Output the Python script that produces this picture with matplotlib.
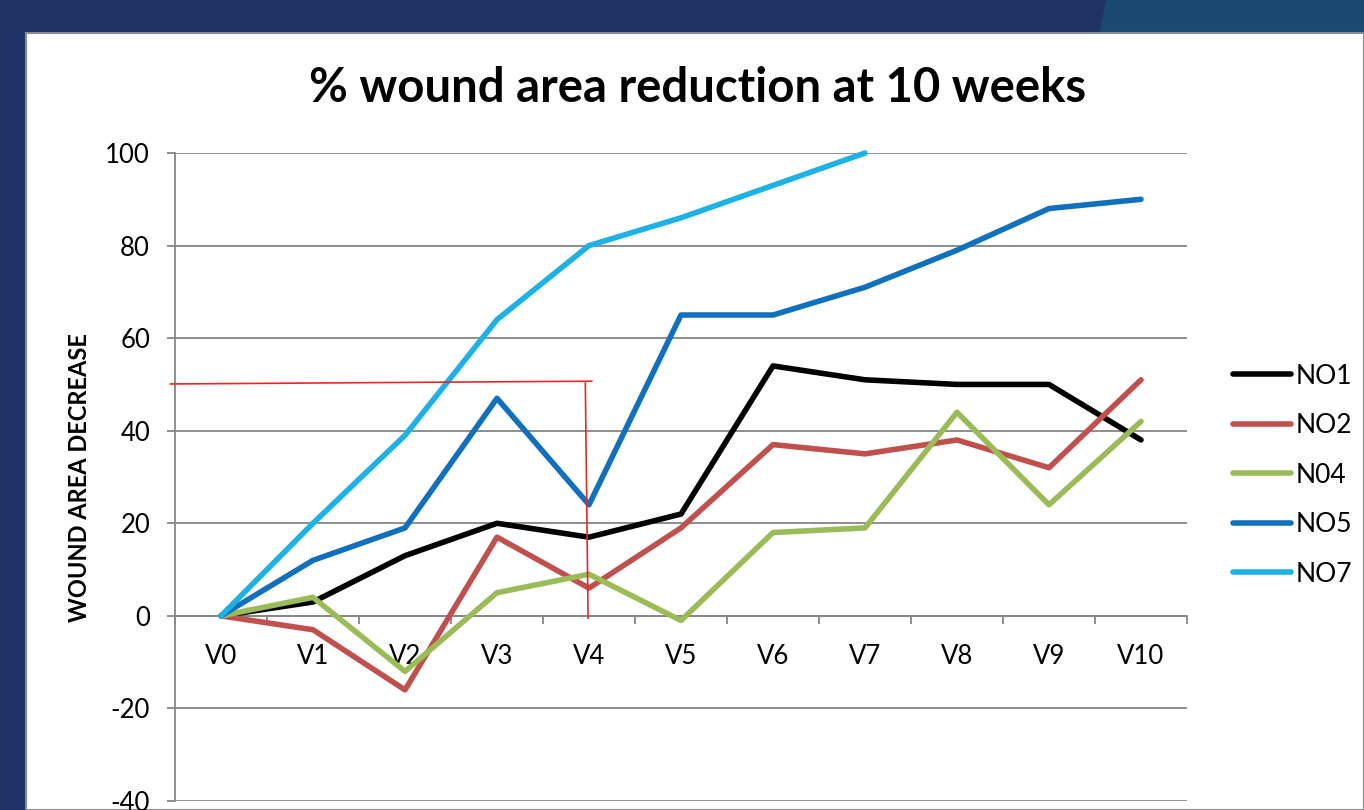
import numpy as np
import matplotlib.pyplot as plt
from matplotlib.patches import Rectangle, Polygon

plt.rcParams['font.family'] = ['Lato', 'DejaVu Sans']
plt.rcParams['axes.unicode_minus'] = False

visits = ['V0', 'V1', 'V2', 'V3', 'V4', 'V5', 'V6', 'V7', 'V8', 'V9', 'V10']
no1 = [0, 3, 13, 20, 17, 22, 54, 51, 50, 50, 38]
no2 = [0, -3, -16, 17, 6, 19, 37, 35, 38, 32, 51]
n04 = [0, 4, -12, 5, 9, -1, 18, 19, 44, 24, 42]
no5 = [0, 12, 19, 47, 24, 65, 65, 71, 79, 88, 90]
no7 = [0, 20, 39, 64, 80, 86, 93, 100]

series = [('NO1', no1, 'black'),
          ('NO2', no2, '#C0504D'),
          ('N04', n04, '#9BBB59'),
          ('NO5', no5, '#1170BD'),
          ('NO7', no7, '#1DB1E6')]

fig = plt.figure(figsize=(13.64, 8.1), dpi=100)
fig.patch.set_facecolor('#1F3366')

# slide background pieces
fig.add_artist(Polygon([[1106/1364, 1], [1, 1], [1, 1 - 32/810], [1100/1364, 1 - 32/810]],
                       closed=True, transform=fig.transFigure, facecolor='#1A4A72',
                       edgecolor='none', zorder=0))
fig.add_artist(Rectangle((26/1364, 0), 1 - 26/1364, 1 - 33/810, transform=fig.transFigure,
                         facecolor='white', edgecolor='#8A8A8A', linewidth=1.5, zorder=0))

ax = fig.add_axes([175/1364, 1 - 801/810, 1012/1364, 648/810])
ax.set_facecolor('none')

x = np.arange(len(visits))
for name, vals, col in series:
    ax.plot(x[:len(vals)], vals, color=col, linewidth=4, label=name,
            solid_joinstyle='round', solid_capstyle='round', clip_on=False, zorder=3)

# hand drawn red marks
ax.plot([-0.55, 4.03], [50.1, 50.7], color='#E8262A', linewidth=1.2, zorder=4, clip_on=False)
ax.plot([3.96, 3.99], [50.3, -0.5], color='#E8262A', linewidth=1.2, zorder=4, clip_on=False)

ax.set_xlim(-0.5, 10.5)
ax.set_ylim(-40, 100)
ax.set_yticks(range(-40, 101, 20))
ax.set_xticks(x)
ax.set_xticklabels(visits)
ax.set_xticks(np.arange(-0.5, 11, 1), minor=True)

ax.grid(axis='y', color='#868686', linewidth=1.3, zorder=1)
ax.set_axisbelow(True)

for s in ['top', 'right']:
    ax.spines[s].set_visible(False)
ax.spines['left'].set_color('#868686')
ax.spines['left'].set_linewidth(1.3)
ax.spines['bottom'].set_position(('data', 0))
ax.spines['bottom'].set_color('#868686')
ax.spines['bottom'].set_linewidth(1.3)

ax.tick_params(axis='x', which='major', length=0, pad=20, labelsize=18.5)
ax.tick_params(axis='x', which='minor', length=6, width=1.3, color='#868686', direction='out')
ax.tick_params(axis='y', length=6, width=1.3, color='#868686', labelsize=18.5, pad=12)

fig.text(80/1364, 1 - 478/810, 'WOUND AREA DECREASE', rotation=90, ha='center', va='center',
         fontsize=17, fontweight='bold')
fig.text(698/1364, 1 - 88/810, '% wound area reduction at 10 weeks', ha='center', va='center',
         fontsize=34, fontweight='bold')

ax.legend(loc='upper left', bbox_to_anchor=(1222/1364, 1 - 353/810),
          bbox_transform=fig.transFigure, frameon=False, fontsize=19,
          handlelength=2.2, handletextpad=0.2, labelspacing=0.93, borderaxespad=0)

fig.savefig('out.png', dpi=100, facecolor=fig.get_facecolor())
